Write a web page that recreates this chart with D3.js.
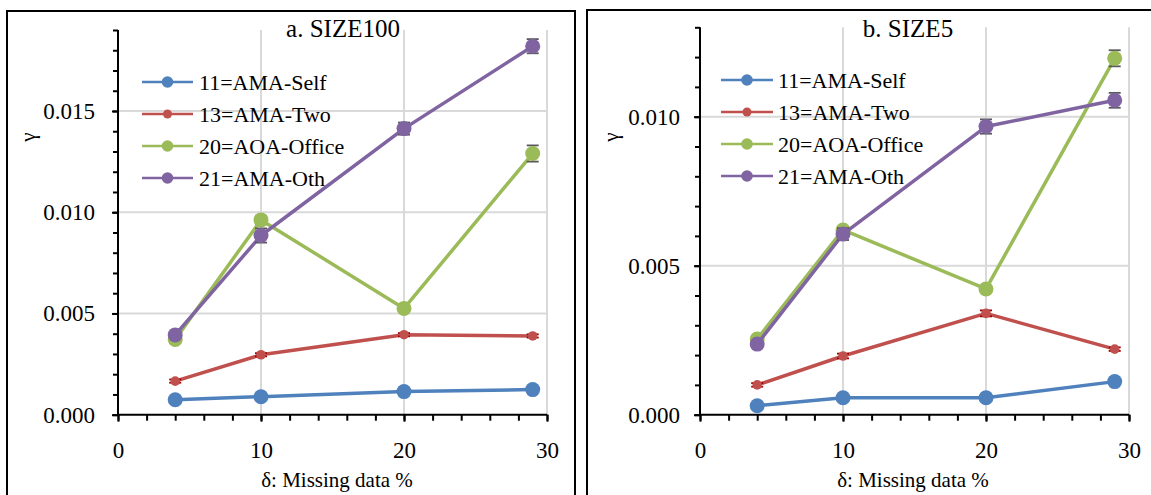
<!DOCTYPE html>
<html><head><meta charset="utf-8">
<script src="https://cdn.jsdelivr.net/npm/d3@7/dist/d3.min.js"></script>
<style>
html,body{margin:0;padding:0;background:#fff;}
svg{display:block;font-family:"Liberation Serif","Times New Roman",serif;}
svg text{font-family:"Liberation Serif","Times New Roman",serif;}
</style></head>
<body>
<svg id="chart" width="1151" height="495"></svg>
<script>
// ---------- data ----------
const missingPct = [4, 10, 20, 29];
const seriesNames = ["11=AMA-Self", "13=AMA-Two", "20=AOA-Office", "21=AMA-Oth"];
const panelTitles = ["a. SIZE100", "b. SIZE5"];
const xTicks = [0, 10, 20, 30];
const yTicksSize100 = [0.000, 0.005, 0.010, 0.015];
const yTicksSize5 = [0.000, 0.005, 0.010];

const size100Self   = [0.00074, 0.00089, 0.00114, 0.00124];
const size100Two    = [0.00166, 0.00296, 0.00395, 0.00389];
const size100Office = [0.00372, 0.00962, 0.00525, 0.01290];
const size100Oth    = [0.00394, 0.00885, 0.01413, 0.01820];
const size100SelfErr   = [0.00008, 0.00008, 0.00008, 0.00008];
const size100TwoErr    = [0.00008, 0.00008, 0.00008, 0.00008];
const size100OfficeErr = [0.00018, 0.00020, 0.00018, 0.00040];
const size100OthErr    = [0.00015, 0.00035, 0.00030, 0.00035];

const size5Self   = [0.00030, 0.00057, 0.00057, 0.00111];
const size5Two    = [0.00100, 0.00197, 0.00340, 0.00220];
const size5Office = [0.00254, 0.00620, 0.00422, 0.01196];
const size5Oth    = [0.00237, 0.00606, 0.00967, 0.01055];
const size5SelfErr   = [0.00005, 0.00005, 0.00005, 0.00005];
const size5TwoErr    = [0.00006, 0.00008, 0.00010, 0.00006];
const size5OfficeErr = [0.00010, 0.00010, 0.00010, 0.00027];
const size5OthErr    = [0.00008, 0.00020, 0.00024, 0.00025];

// ---------- styling ----------
const FONT = "Liberation Serif";
const colors = ["#4F81BD", "#C0504D", "#9BBB59", "#8064A2"];
const errColors = ["#1F3F6E", "#A00000", "#595959", "#595959"];
const markerR = [7.5, 4.8, 7.5, 7.5];
const legendR = [5.8, 4.5, 5.8, 5.8];

const panels = [
  { frame:[7,11,568,520], x0:118, x1:547, yb:414.7, yt:30, ymax:0.019, yTicks:yTicksSize100,
    titleX:343, axisTitleX:337, gammaX:28, legX0:142, legX1:193, legTextX:199, legY:[82,114,146,178],
    vals:[size100Self,size100Two,size100Office,size100Oth],
    errs:[size100SelfErr,size100TwoErr,size100OfficeErr,size100OthErr], labelPad:17 },
  { frame:[587,10,620,520], x0:700, x1:1129, yb:414.7, yt:27.3, ymax:0.013, yTicks:yTicksSize5,
    titleX:908, axisTitleX:913, gammaX:611, legX0:721, legX1:773, legTextX:778, legY:[80,112,144,176],
    vals:[size5Self,size5Two,size5Office,size5Oth],
    errs:[size5SelfErr,size5TwoErr,size5OfficeErr,size5OthErr], labelPad:14 }
];

const svg = d3.select("#chart");

panels.forEach((p, pi) => {
  const g = svg.append("g");
  g.append("rect").attr("x", p.frame[0]).attr("y", p.frame[1])
    .attr("width", p.frame[2]).attr("height", p.frame[3])
    .attr("fill", "none").attr("stroke", "#000").attr("stroke-width", 2);

  const x = d3.scaleLinear().domain([0, 30]).range([p.x0, p.x1]);
  const y = d3.scaleLinear().domain([0, p.ymax]).range([p.yb, p.yt]);

  // gridlines
  g.selectAll(".hg").data(p.yTicks.filter(d => d > 0)).join("line")
    .attr("x1", p.x0).attr("x2", p.x1).attr("y1", d => y(d)).attr("y2", d => y(d))
    .attr("stroke", "#D9D9D9").attr("stroke-width", 2);
  g.selectAll(".vg").data(xTicks.filter(d => d > 0)).join("line")
    .attr("x1", d => x(d)).attr("x2", d => x(d)).attr("y1", p.yt).attr("y2", p.yb)
    .attr("stroke", "#D9D9D9").attr("stroke-width", 2);

  // minor ticks
  const yMinor = d3.range(0, Math.round(p.ymax * 1000) + 1).map(i => i / 1000);
  const xMinor = d3.range(0, 31, 2);
  const yMin = g.append("g").attr("transform", `translate(${p.x0},0)`)
    .call(d3.axisLeft(y).tickValues(yMinor).tickSize(5).tickFormat(""));
  const xMin = g.append("g").attr("transform", `translate(0,${p.yb})`)
    .call(d3.axisBottom(x).tickValues(xMinor).tickSize(6).tickFormat(""));
  [yMin, xMin].forEach(a => {
    a.selectAll("path").remove();
    a.selectAll("line").attr("stroke", "#000").attr("stroke-width", 2);
  });

  // major axes with labels
  const yAx = g.append("g").attr("transform", `translate(${p.x0},0)`)
    .call(d3.axisLeft(y).tickValues(p.yTicks).tickFormat(d3.format(".3f")).tickSize(6).tickPadding(p.labelPad));
  const xAx = g.append("g").attr("transform", `translate(0,${p.yb})`)
    .call(d3.axisBottom(x).tickValues(xTicks).tickFormat(d3.format("d")).tickSize(7).tickPadding(20));
  [yAx, xAx].forEach(a => {
    a.attr("font-family", FONT);
    a.select("path").attr("stroke", "#000").attr("stroke-width", 2);
    a.selectAll("line").attr("stroke", "#000").attr("stroke-width", 2);
    a.selectAll("text").attr("fill", "#000").attr("font-family", FONT)
      .style("font-family", FONT).style("font-size", "23px");
  });
  yAx.select("path").attr("d", `M0,${p.yt}V${p.yb}`);
  xAx.select("path").attr("d", `M${p.x0},0H${p.x1}`);

  // series
  const line = d3.line().x((d, i) => x(missingPct[i])).y(d => y(d));
  p.vals.forEach((vals, si) => {
    const sg = g.append("g");
    sg.append("path").datum(vals).attr("d", line)
      .attr("fill", "none").attr("stroke", colors[si]).attr("stroke-width", 3.5)
      .attr("stroke-linejoin", "round");
    const errs = p.errs[si];
    const eb = sg.selectAll(".eb").data(vals).join("g");
    eb.append("line")
      .attr("x1", (d, i) => x(missingPct[i])).attr("x2", (d, i) => x(missingPct[i]))
      .attr("y1", (d, i) => y(d - errs[i])).attr("y2", (d, i) => y(d + errs[i]))
      .attr("stroke", errColors[si]).attr("stroke-width", 1.5);
    [-1, 1].forEach(s => {
      eb.append("line")
        .attr("x1", (d, i) => x(missingPct[i]) - 6).attr("x2", (d, i) => x(missingPct[i]) + 6)
        .attr("y1", (d, i) => y(d + s * errs[i])).attr("y2", (d, i) => y(d + s * errs[i]))
        .attr("stroke", errColors[si]).attr("stroke-width", 1.8);
    });
    sg.selectAll(".mk").data(vals).join("circle")
      .attr("cx", (d, i) => x(missingPct[i])).attr("cy", d => y(d))
      .attr("r", markerR[si]).attr("fill", colors[si]);
  });

  // legend
  seriesNames.forEach((name, si) => {
    const ly = p.legY[si];
    g.append("line").attr("x1", p.legX0).attr("x2", p.legX1).attr("y1", ly).attr("y2", ly)
      .attr("stroke", colors[si]).attr("stroke-width", 2.5);
    g.append("circle").attr("cx", (p.legX0 + p.legX1) / 2).attr("cy", ly)
      .attr("r", legendR[si]).attr("fill", colors[si]);
    g.append("text").attr("x", p.legTextX).attr("y", ly).attr("dy", "0.35em")
      .attr("font-family", FONT).style("font-size", "22px").attr("fill", "#000").text(name);
  });

  // titles
  g.append("text").attr("x", p.titleX).attr("y", 37).attr("text-anchor", "middle")
    .attr("font-family", FONT).style("font-size", "25px").attr("fill", "#000").text(panelTitles[pi]);
  g.append("text").attr("x", p.axisTitleX).attr("y", 487).attr("text-anchor", "middle")
    .attr("font-family", FONT).style("font-size", "21px").attr("fill", "#000").text("δ: Missing data %");
  g.append("text").attr("transform", `translate(${p.gammaX},137) rotate(-90)`)
    .attr("text-anchor", "middle").attr("dy", "0.35em")
    .attr("font-family", FONT).style("font-size", "21px").attr("fill", "#000").text("γ");
});
</script>
</body></html>
